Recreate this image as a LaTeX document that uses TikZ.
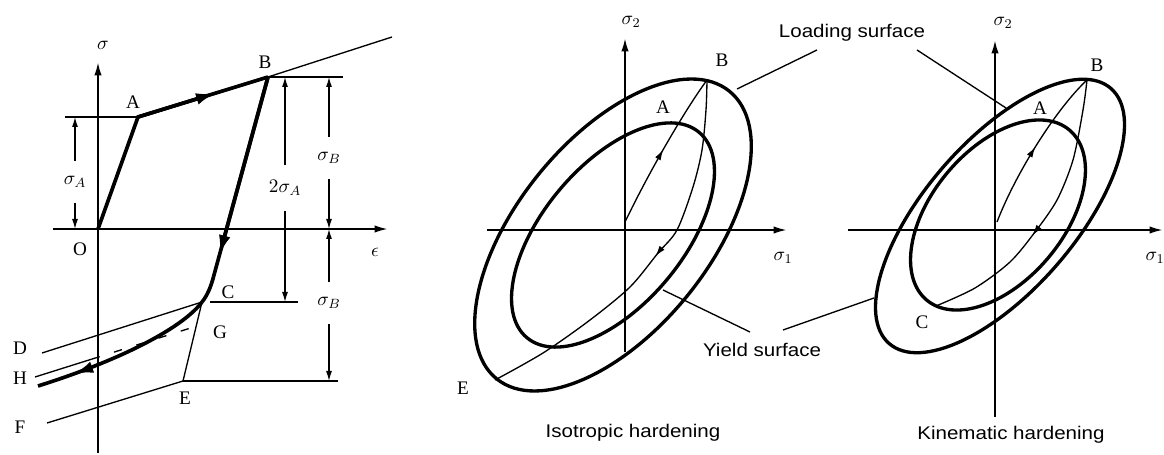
\documentclass[tikz,border=0pt]{standalone}
\usepackage{fix-cm}
\usepackage{amsmath}
\usepackage{fontspec}
\setmainfont{Liberation Serif}
\newfontfamily\labelfont[FakeStretch=1.12]{Liberation Sans}
\usetikzlibrary{arrows.meta,calc,decorations.markings}

\begin{document}
\begin{tikzpicture}[x=0.6pt, y=-0.6pt,
    bigtip/.tip={Latex[length=12pt,width=7pt]},
    smalltip/.tip={Latex[length=6.5pt,width=3.8pt]},
    axis/.style={line width=1.2pt, -{Latex[length=8pt,width=4.4pt]}},
    heavy/.style={line width=2.2pt},
    fine/.style={line width=0.8pt},
    dimarrow/.style={line width=0.7pt, -{Latex[length=6pt,width=3.6pt]}},
    surface/.style={line width=2pt},
    letter/.style={font=\fontsize{11.5}{13}\selectfont, inner sep=0pt},
    dimlbl/.style={letter, inner xsep=0pt, inner ysep=9pt},
    caption/.style={font=\labelfont\fontsize{11}{13}\selectfont, inner sep=0pt},
    midarrow/.style 2 args={postaction={decorate}, decoration={markings,
        mark=at position #1 with {\arrow{#2}}}}]
    \useasboundingbox (0,0) rectangle (1164,455);

    % Uniaxial loading
    \begin{scope}
        \coordinate (O) at (98,229);
        \coordinate (A) at (138,117);
        \coordinate (B) at (268,77);
        \coordinate (C) at (202,302);
        \coordinate (E) at (183,381);
        \coordinate (G) at (197,326);
        \coordinate (Bbend) at (214,275);
        \coordinate (Hend) at (38,386);
        \coordinate (Dfoot) at (42,353);
        \coordinate (Hfoot) at (35,377);
        \coordinate (Ffoot) at (47,423);
        \coordinate (hardTop) at (392,37);
        \coordinate (sigFoot) at (98,453);
        \coordinate (sigTip) at (98,62);
        \coordinate (epsFoot) at (53,229);
        \coordinate (epsTip) at (388,229);
        \coordinate (Aleft) at (65,117);
        \coordinate (Bright) at (343,77);
        \coordinate (Cleft) at (210,302);
        \coordinate (Cright) at (298,302);
        \coordinate (Eright) at (338,381);

        \draw[axis] (sigFoot) -- (sigTip);
        \draw[axis] (epsFoot) -- (epsTip);
        \node[letter] (sig) at (103,45) {$\sigma$};
        \node[letter] (eps) at (375,252) {$\epsilon$};

        \draw[fine] (Aleft) -- (A);
        \draw[fine] (B) -- (Bright);
        \draw[fine] (Cleft) -- (Cright);
        \draw[fine] (E) -- (Eright);
        \draw[fine] (B) -- (hardTop);
        \draw[fine] (Dfoot) -- (C);
        \draw[fine] (C) -- (E);
        \draw[fine] (Ffoot) -- (E);
        \draw[fine] (Hfoot) -- ($(Hfoot)!0.35!(G)$);
        \draw[fine, dash pattern=on 5pt off 9pt] ($(Hfoot)!0.35!(G)$) -- (G);

        \draw[heavy] (O) -- (A) -- (B);
        \draw[heavy, -bigtip] (A) -- ($(A)!0.6!(B)$);
        \draw[heavy] (B) -- (Bbend) .. controls (211,287) and (207,296) .. (C);
        \draw[heavy, -bigtip] (B) -- ($(B)!0.9!(Bbend)$);
        \draw[heavy, midarrow={0.8}{bigtip}] (C) .. controls (185,325) and (130,357) .. (Hend);

        \node[letter] (lO) at (80,249) {O};
        \node[letter] (lA) at (133,102) {A};
        \node[letter] (lB) at (265,62) {B};
        \node[letter] (lC) at (228,292) {C};
        \node[letter] (lG) at (220,332) {G};
        \node[letter] (lD) at (20,348) {D};
        \node[letter] (lH) at (20,378) {H};
        \node[letter] (lF) at (20,427) {F};
        \node[letter] (lE) at (185,398) {E};

        \node[dimlbl] (sA) at (75,182) {$\sigma_A$};
        \draw[dimarrow] (sA) -- (sA |- A);
        \draw[dimarrow] (sA) -- (sA |- O);
        \node[dimlbl] (twosA) at (285,188) {$2\sigma_A$};
        \draw[dimarrow] (twosA) -- (twosA |- B);
        \draw[dimarrow] (twosA) -- (twosA |- C);
        \node[dimlbl] (sBup) at (329,158) {$\sigma_B$};
        \draw[dimarrow] (sBup) -- (sBup |- B);
        \draw[dimarrow] (sBup) -- (sBup |- O);
        \node[dimlbl] (sBlow) at (329,303) {$\sigma_B$};
        \draw[dimarrow] (sBlow) -- (sBlow |- O);
        \draw[dimarrow] (sBlow) -- (sBlow |- E);
    \end{scope}

    % Isotropic hardening
    \begin{scope}
        \coordinate (isoCtr) at (613,235);
        \coordinate (isoO) at (625,222);
        \coordinate (isoB) at (707,80);
        \coordinate (isoE) at (495,380);
        \draw[axis] (625,352) -- (625,38);
        \draw[axis] (487,230) -- (787,230);
        \node[letter] (isoS2) at (631,22) {$\sigma_2$};
        \node[letter] (isoS1) at (783,258) {$\sigma_1$};
        \draw[surface, rotate around={51:(isoCtr)}] (isoCtr) ellipse [x radius=185, y radius=96];
        \draw[surface, rotate around={50:(isoCtr)}] (isoCtr) ellipse [x radius=134, y radius=70];
        \draw[fine, midarrow={0.5}{smalltip}] (isoO) .. controls (650,170) and (685,110) .. (isoB);
        \draw[fine, midarrow={0.48}{smalltip}] plot[smooth] coordinates
            {(isoB) (706,110) (702,150) (693,187) (677,230) (658,253) (630,287) (590,320) (543,353) (isoE)};
        \node[letter] (isoA) at (663,107) {A};
        \node[letter] (isoBl) at (722,60) {B};
        \node[letter] (isoEl) at (463,388) {E};
        \node[caption] (isoCap) at (633,433) {Isotropic hardening};
    \end{scope}

    % Kinematic hardening
    \begin{scope}
        \coordinate (kinLd) at (1000,216);
        \coordinate (kinYd) at (998,215);
        \coordinate (kinO) at (997,222);
        \coordinate (kinB) at (1087,80);
        \coordinate (kinC) at (936,306);
        \draw[axis] (995,417) -- (995,40);
        \draw[axis] (848,230) -- (1163,230);
        \node[letter] (kinS2) at (1003,23) {$\sigma_2$};
        \node[letter] (kinS1) at (1155,258) {$\sigma_1$};
        \draw[surface, rotate around={49:(kinLd)}] (kinLd) ellipse [x radius=169, y radius=75];
        \draw[surface, rotate around={50:(kinYd)}] (kinYd) ellipse [x radius=111, y radius=66];
        \draw[fine, midarrow={0.5}{smalltip}] (kinO) .. controls (1015,175) and (1055,110) .. (kinB);
        \draw[fine, midarrow={0.58}{smalltip}] plot[smooth] coordinates
            {(kinB) (1083,110) (1073,160) (1057,200) (1035,232) (1010,262) (975,288) (kinC)};
        \node[letter] (kinA) at (1040,108) {A};
        \node[letter] (kinBl) at (1097,65) {B};
        \node[letter] (kinCl) at (922,322) {C};
        \node[caption] (kinCap) at (1011,435) {Kinematic hardening};
    \end{scope}

    % Surface labels
    \node[caption] (load) at (852,33) {Loading surface};
    \node[caption] (yield) at (762,350) {Yield surface};
    \coordinate (loadL) at (817,50);
    \coordinate (loadR) at (917,50);
    \coordinate (yieldL) at (750,332);
    \coordinate (yieldR) at (783,330);
    \coordinate (isoLoad) at (737,89);
    \coordinate (kinLoad) at (1006,108);
    \coordinate (isoYield) at (663,290);
    \coordinate (kinYield) at (874,298);
    \draw[fine] (loadL) -- (isoLoad);
    \draw[fine] (loadR) -- (kinLoad);
    \draw[fine] (yieldL) -- (isoYield);
    \draw[fine] (yieldR) -- (kinYield);
\end{tikzpicture}
\end{document}
